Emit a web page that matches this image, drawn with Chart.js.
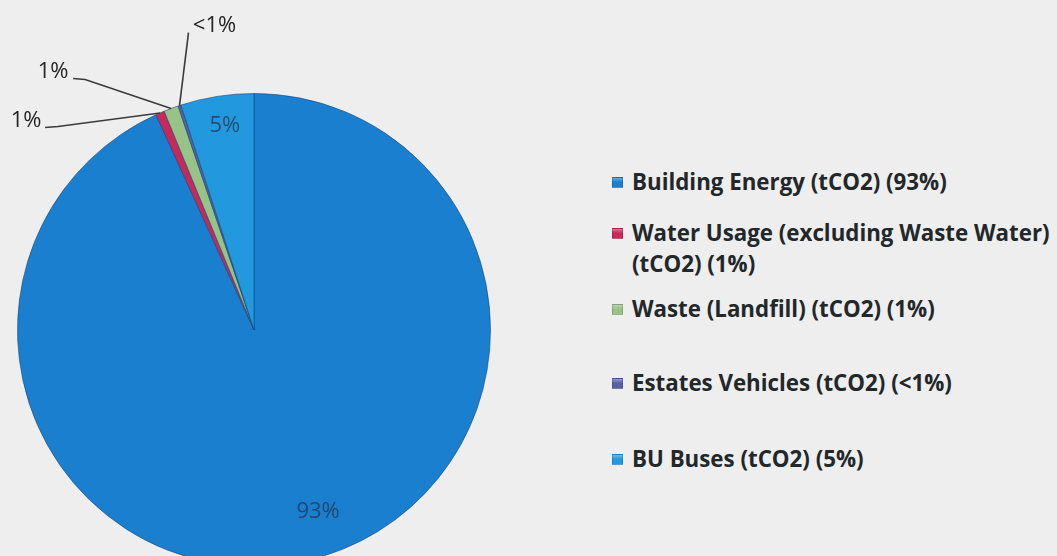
<!DOCTYPE html>
<html>
<head>
<meta charset="utf-8">
<title>Carbon footprint by source</title>
<script src="https://cdn.jsdelivr.net/npm/chart.js@4.4.0/dist/chart.umd.min.js"></script>
<style>
  html, body { margin: 0; width: 1057px; height: 556px; overflow: hidden; background: #eeeeee; }
  #pie { position: absolute; left: 0; top: 0; }
  #legend { position: absolute; left: 0; top: 0; font-family: "Open Sans", Lato, sans-serif; font-weight: 700; font-size: 22.3px; color: #22272a; }
  .item { position: absolute; left: 612px; width: 445px; display: flex; align-items: flex-start; line-height: 31px; }
  .box { width: 11px; height: 11px; margin-top: 11px; margin-right: 9px; flex: none; box-sizing: border-box; border: 1px solid rgba(0,0,0,0.15); }
</style>
</head>
<body>
<canvas id="pie" width="508" height="660"></canvas>
<div id="legend"></div>
<script>
const categories = [
  "Building Energy (tCO2)",
  "Water Usage (excluding Waste Water) (tCO2)",
  "Waste (Landfill) (tCO2)",
  "Estates Vehicles (tCO2)",
  "BU Buses (tCO2)"
];
const shares = [93.2, 0.6, 1.0, 0.2, 5.0];
const colours = ["#1b7fcf", "#c9285a", "#98c286", "#5a60a6", "#2298de"];

// where each slice label goes: inside ones by radius/turn, callouts by offsets from the rim
const labelPlacement = [
  { inside: true, r: 0.814, turn: -7.2, color: "#223a55" },
  { text: [-134, 8], elbow: [-102, 13.5], tail: [-115, 14.5] },
  { text: [-118, -37], elbow: [-86, -29], tail: [-98, -30] },
  { text: [35, -80], elbow: [9, -73], tail: [9, -73] },
  { inside: true, r: 0.874, turn: 0.9, color: "#223a55" }
];
// vertical centre of the first line of each legend entry
const legendRows = [181, 232, 308, 382, 458];

const total = shares.reduce((a, b) => a + b, 0);
const pctText = v => {
  const p = Math.round(v / total * 100);
  return p < 1 ? "<1%" : p + "%";
};

const sliceLabels = {
  id: "sliceLabels",
  afterDatasetsDraw(chart) {
    const ctx = chart.ctx;
    chart.getDatasetMeta(0).data.forEach((arc, i) => {
      const { x, y, startAngle, endAngle, outerRadius } =
        arc.getProps(["x", "y", "startAngle", "endAngle", "outerRadius"], true);
      const mid = (startAngle + endAngle) / 2;
      const place = labelPlacement[i];
      const txt = pctText(shares[i]);
      ctx.save();
      ctx.font = "500 22px 'Open Sans', sans-serif";
      ctx.textAlign = "center";
      ctx.textBaseline = "middle";
      if (place.inside) {
        const a = mid + place.turn * Math.PI / 180;
        const r = outerRadius * place.r;
        ctx.fillStyle = place.color;
        ctx.globalAlpha = 0.8;
        ctx.fillText(txt, x + Math.cos(a) * r, y + Math.sin(a) * r);
      } else {
        const ex = x + Math.cos(mid) * outerRadius;
        const ey = y + Math.sin(mid) * outerRadius;
        ctx.strokeStyle = "#3a3a3a";
        ctx.lineWidth = 1.6;
        ctx.beginPath();
        ctx.moveTo(ex, ey);
        ctx.lineTo(ex + place.elbow[0], ey + place.elbow[1]);
        ctx.lineTo(ex + place.tail[0], ey + place.tail[1]);
        ctx.stroke();
        ctx.fillStyle = "#242424";
        ctx.fillText(txt, ex + place.text[0], ey + place.text[1]);
      }
      ctx.restore();
    });
  }
};

new Chart(document.getElementById("pie"), {
  type: "pie",
  data: {
    labels: categories,
    datasets: [{
      data: shares,
      backgroundColor: colours,
      borderColor: "rgba(22,70,120,0.6)",
      borderWidth: 1,
      hoverOffset: 0
    }]
  },
  options: {
    responsive: false,
    devicePixelRatio: 1,
    animation: false,
    layout: { padding: { left: 17, right: 17, top: 93, bottom: 93 } },
    plugins: { legend: { display: false }, tooltip: { enabled: false } }
  },
  plugins: [sliceLabels]
});

// legend built from the same arrays
const legend = document.getElementById("legend");
categories.forEach((name, i) => {
  const item = document.createElement("div");
  item.className = "item";
  item.style.top = (legendRows[i] - 15.5) + "px";
  const box = document.createElement("span");
  box.className = "box";
  box.style.background = `linear-gradient(180deg, ${colours[i]}99 0%, ${colours[i]} 45%, ${colours[i]} 100%)`;
  const label = document.createElement("span");
  label.textContent = `${name} (${pctText(shares[i])})`;
  item.appendChild(box);
  item.appendChild(label);
  legend.appendChild(item);
});
</script>
</body>
</html>
